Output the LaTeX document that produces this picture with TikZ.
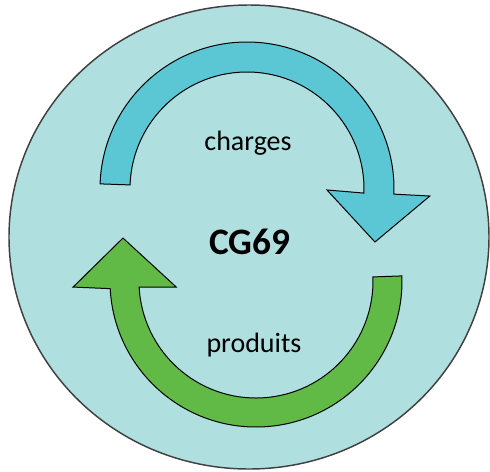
\documentclass[tikz,border=0pt]{standalone}
\usepackage{fontspec}
\setmainfont{Carlito}
\usepackage{tikz}
\usetikzlibrary{calc}
\definecolor{cycleback}{RGB}{176,223,224}
\definecolor{chargeblue}{RGB}{91,199,213}
\definecolor{produitgreen}{RGB}{98,186,70}

\begin{document}
\begin{tikzpicture}[x=0.75pt,y=0.75pt,yscale=-1,xscale=1,
  arrowshape/.style={draw=black, line width=0.75pt, line join=miter},
  arrowtext/.style={inner sep=0.75pt, font=\fontsize{21}{25}\selectfont}]
\useasboundingbox (0,0) rectangle (490,472);

%Shape: Ellipse [background]
\draw[draw=black!75, line width=1.1pt, fill=cycleback] (249,237) ellipse [x radius=240, y radius=232];

\coordinate (bc) at (247,189);
\coordinate (gc) at (256,281);

%Shape: Circular Arrow [charges]
\draw[arrowshape, fill=chargeblue] ($(bc)+(182:147)$) arc [start angle=182, end angle=362, radius=147] -- ($(bc)+(2.2:183)$) -- ($(bc)+(22.5:138.5)$) -- ($(bc)+(0.7:80)$) -- ($(bc)+(2:117)$) arc [start angle=2, end angle=-178, radius=117] -- cycle;

%Shape: Circular Arrow [produits]
\draw[arrowshape, fill=produitgreen] ($(gc)+(-2:146)$) arc [start angle=-2, end angle=177, radius=146] -- ($(gc)+(178.1:183)$) -- ($(gc)+(197.9:139.8)$) -- ($(gc)+(175.7:80)$) -- ($(gc)+(177:117)$) arc [start angle=177, end angle=-2, radius=117] -- cycle;

% Text Node
\node[arrowtext] (charges) at (248,143) {charges};
% Text Node
\node[arrowtext, font=\bfseries\fontsize{28}{32}\selectfont] (cg) at (250,242) {CG69};
% Text Node
\node[arrowtext] (produits) at (254,345) {produits};

\end{tikzpicture}
\end{document}
